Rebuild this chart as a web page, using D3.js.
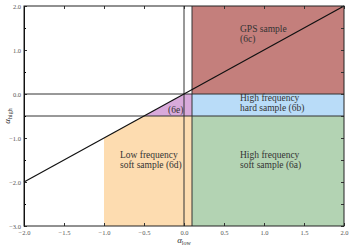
<!DOCTYPE html>
<html>
<head>
<meta charset="utf-8">
<script src="https://cdn.jsdelivr.net/npm/d3@7"></script>
<style>
body { margin: 0; background: #fff; }
text { font-family: "Liberation Serif", "DejaVu Serif", serif; }
</style>
</head>
<body>
<div id="grafico"></div>
<script>
// regiones en coordenadas (alpha_low, alpha_high)
const regiones = [
  { nombre: "gps", color: "#c47f7c", puntos: [[0.1, 0], [2, 0], [2, 2], [0.1, 2]] },
  { nombre: "hard", color: "#b9dcf8", puntos: [[0.1, -0.5], [2, -0.5], [2, 0], [0.1, 0]] },
  { nombre: "softHigh", color: "#b3d3b3", puntos: [[0.1, -3], [2, -3], [2, -0.5], [0.1, -0.5]] },
  { nombre: "softLow", color: "#fddcb0", puntos: [[-1, -3], [0.1, -3], [0.1, -0.5], [-0.5, -0.5], [-1, -1]] },
  { nombre: "e", color: "#d9aadb", puntos: [[-0.5, -0.5], [0.1, -0.5], [0.1, 0], [0, 0]] }
];
const lineasH = [0, -0.5];
const lineasV = [0, 0.1];
const diagonal = [[-2, -2], [2, 2]];
const etiquetas = [
  { x: 0.7, y: 1.4, lineas: ["GPS sample", "(6c)"] },
  { x: 0.7, y: -0.15, lineas: ["High frequency", "hard sample (6b)"] },
  { x: -0.2, y: -0.43, lineas: ["(6e)"] },
  { x: -0.8, y: -1.45, lineas: ["Low frequency", "soft sample (6d)"] },
  { x: 0.7, y: -1.45, lineas: ["High frequency", "soft sample (6a)"] }
];
const ticksX = [-2, -1.5, -1, -0.5, 0, 0.5, 1, 1.5, 2];
const ticksY = [2, 1, 0, -1, -2, -3];
const ticksYmenores = [1.5, 0.5, -0.5, -1.5, -2.5];

const ancho = 351, alto = 247;
const margen = { izq: 24, der: 7, arr: 6, aba: 21 };

const svg = d3.select("#grafico").append("svg")
  .attr("width", ancho).attr("height", alto);

const x = d3.scaleLinear().domain([-2, 2]).range([margen.izq, ancho - margen.der]);
const y = d3.scaleLinear().domain([-3, 2]).range([alto - margen.aba, margen.arr]);

const linea = d3.line().x(d => x(d[0])).y(d => y(d[1]));

svg.selectAll("path.region")
  .data(regiones)
  .join("path")
  .attr("class", "region")
  .attr("d", d => linea(d.puntos) + "Z")
  .attr("fill", d => d.color)
  .attr("stroke", "none");

svg.selectAll("line.h")
  .data(lineasH)
  .join("line")
  .attr("x1", x(-2)).attr("x2", x(2))
  .attr("y1", d => y(d)).attr("y2", d => y(d))
  .attr("stroke", "#333").attr("stroke-width", 1);

svg.selectAll("line.v")
  .data(lineasV)
  .join("line")
  .attr("x1", d => x(d)).attr("x2", d => x(d))
  .attr("y1", y(-3)).attr("y2", y(2))
  .attr("stroke", "#333").attr("stroke-width", 1);

svg.append("path")
  .attr("d", linea(diagonal))
  .attr("stroke", "#111").attr("stroke-width", 1.2).attr("fill", "none");

// textos de las regiones
etiquetas.forEach(e => {
  const t = svg.append("text")
    .attr("x", x(e.x)).attr("y", y(e.y))
    .attr("font-size", 9.5).attr("fill", "#333");
  e.lineas.forEach((l, i) => {
    t.append("tspan").attr("x", x(e.x)).attr("dy", i === 0 ? 0 : 10).text(l);
  });
});

// ejes con ticks hacia dentro
const fmt = d => (d < 0 ? "\u2212" : "") + Math.abs(d).toFixed(1);
const ejeAbajo = svg.append("g").attr("transform", `translate(0,${y(-3)})`)
  .call(d3.axisBottom(x).tickValues(ticksX).tickSizeInner(-3).tickSizeOuter(0).tickPadding(4).tickFormat(fmt));
const ejeArriba = svg.append("g").attr("transform", `translate(0,${y(2)})`)
  .call(d3.axisTop(x).tickValues(ticksX).tickSizeInner(-3).tickSizeOuter(0).tickFormat(""));
const ejeIzq = svg.append("g").attr("transform", `translate(${x(-2)},0)`)
  .call(d3.axisLeft(y).tickValues(ticksY).tickSizeInner(-3).tickSizeOuter(0).tickPadding(3).tickFormat(fmt));
svg.append("g").attr("transform", `translate(${x(-2)},0)`)
  .call(d3.axisLeft(y).tickValues(ticksYmenores).tickSizeInner(-2).tickSizeOuter(0).tickFormat(""));
const ejeDer = svg.append("g").attr("transform", `translate(${x(2)},0)`)
  .call(d3.axisRight(y).tickValues(ticksY.concat(ticksYmenores)).tickSizeInner(-3).tickSizeOuter(0).tickFormat(""));

[ejeAbajo, ejeArriba, ejeIzq, ejeDer].forEach(g => {
  g.select(".domain").remove();
  g.selectAll("text").attr("font-size", 6.5).attr("fill", "#555")
    .attr("font-family", "Liberation Serif, serif");
  g.selectAll("line").attr("stroke", "#333");
});

svg.append("rect")
  .attr("x", x(-2)).attr("y", y(2))
  .attr("width", x(2) - x(-2)).attr("height", y(-3) - y(2))
  .attr("fill", "none").attr("stroke", "#222").attr("stroke-width", 1);

// titulos de ejes
const tx = svg.append("text").attr("x", x(0)).attr("y", 243)
  .attr("text-anchor", "middle").attr("font-size", 9).attr("fill", "#333");
tx.append("tspan").attr("font-style", "italic").text("\u03b1");
tx.append("tspan").attr("font-size", 6).attr("dy", 2).text("low");

const ty = svg.append("text")
  .attr("transform", `translate(10,${y(-0.5)}) rotate(-90)`)
  .attr("text-anchor", "middle").attr("font-size", 9).attr("fill", "#333");
ty.append("tspan").attr("font-style", "italic").text("\u03b1");
ty.append("tspan").attr("font-size", 6).attr("dy", 2).text("high");
</script>
</body>
</html>
